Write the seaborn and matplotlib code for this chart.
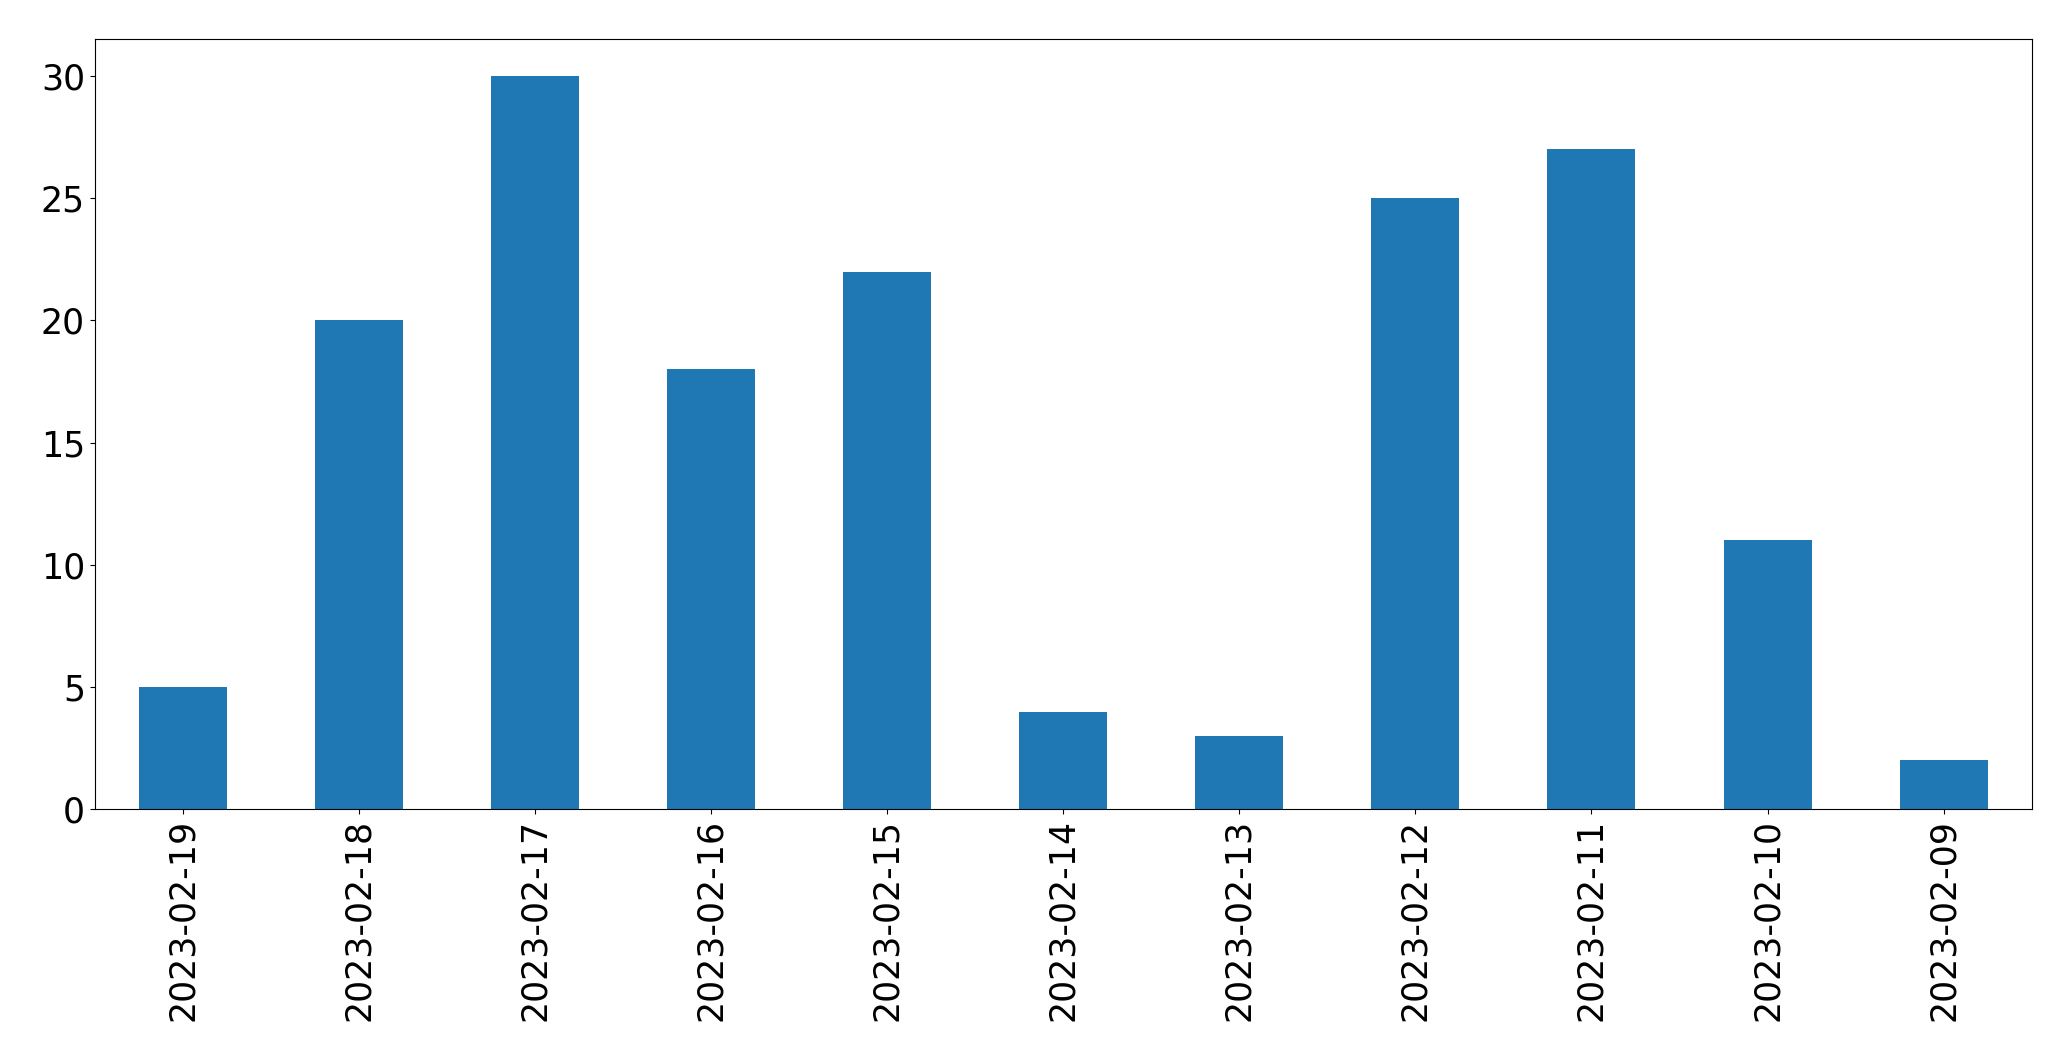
import matplotlib
matplotlib.use("Agg")
import matplotlib.pyplot as plt
import seaborn as sns
import pandas as pd

dates = ["2023-02-19", "2023-02-18", "2023-02-17", "2023-02-16", "2023-02-15",
         "2023-02-14", "2023-02-13", "2023-02-12", "2023-02-11", "2023-02-10",
         "2023-02-09"]
counts = [5, 20, 30, 18, 22, 4, 3, 25, 27, 11, 2]

df = pd.DataFrame({"date": dates, "count": counts})

fig, ax = plt.subplots(figsize=(20.71, 10.61), dpi=100)
fig.subplots_adjust(left=94.7 / 2071, right=2031.7 / 2071,
                    top=1 - 39.3 / 1061, bottom=1 - 809.3 / 1061)

sns.barplot(data=df, x="date", y="count", order=dates, color="#1f77b4",
            saturation=1, width=0.5, ax=ax, errorbar=None)

ax.set_xlim(-0.5, len(dates) - 0.5)
ax.set_ylim(0, 31.5)
ax.set_yticks([0, 5, 10, 15, 20, 25, 30])
ax.set_xlabel("")
ax.set_ylabel("")
ax.tick_params(axis="both", labelsize=25)
ax.tick_params(axis="x", labelrotation=90)

fig.savefig("out.png", dpi=100)
